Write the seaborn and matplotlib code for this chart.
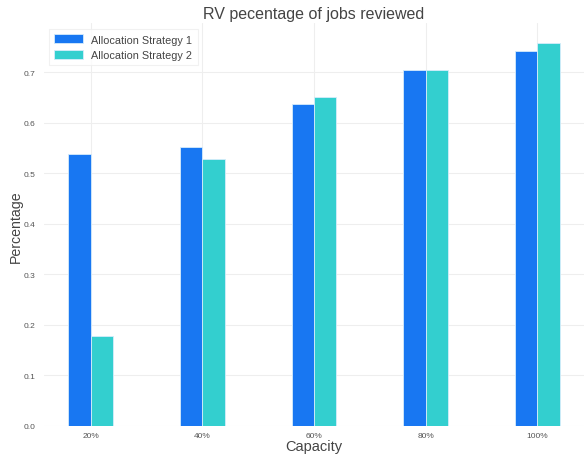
import pandas as pd
import matplotlib
matplotlib.use('Agg')
import matplotlib.pyplot as plt
import seaborn as sns

capacity = ['20%', '40%', '60%', '80%', '100%']
strategy_1 = [0.538, 0.552, 0.637, 0.704, 0.741]
strategy_2 = [0.178, 0.528, 0.651, 0.704, 0.758]
series_names = ['Allocation Strategy 1', 'Allocation Strategy 2']
y_ticks = [0.0, 0.1, 0.2, 0.3, 0.4, 0.5, 0.6, 0.7]

df = pd.DataFrame({
    'Capacity': capacity * 2,
    'Percentage': strategy_1 + strategy_2,
    'Strategy': [series_names[0]] * 5 + [series_names[1]] * 5,
})

sns.set_style('white')
plt.rcParams['font.family'] = ['Liberation Sans', 'DejaVu Sans']

W, H = 584, 456
fig = plt.figure(figsize=(W / 100, H / 100), dpi=100)
ax = fig.add_axes([44 / W, 1 - 427 / H, 1 - 44 / W, (427 - 24) / H])

sns.barplot(data=df, x='Capacity', y='Percentage', hue='Strategy',
            palette=['#1877f2', '#33cfcf'], saturation=1, width=0.4, gap=0,
            edgecolor='#d6ecfb', linewidth=0.6, ax=ax, zorder=3)

ax.set_xlim(-0.418, 4.418)
ax.set_ylim(0, 0.797)
ax.set_yticks(y_ticks)
ax.set_yticklabels([f'{v:.1f}' for v in y_ticks])
ax.grid(True, color='#eeeeee', linewidth=0.8, zorder=0)
ax.set_axisbelow(True)
for s in ax.spines.values():
    s.set_visible(False)
ax.tick_params(axis='x', length=0, labelsize=6, labelcolor='#555555', pad=4.5)
ax.tick_params(axis='y', length=0, labelsize=6, labelcolor='#555555', pad=6)

ax.set_xlabel('')
ax.set_ylabel('')
fig.text(314 / W, 1 - 447 / H, 'Capacity', fontsize=10.5, color='#444444',
         ha='center', va='center')
fig.text(16 / W, 1 - 227 / H, 'Percentage', fontsize=10.2, color='#444444',
         ha='center', va='center', rotation=90)
fig.text(314 / W, 1 - 15 / H, 'RV pecentage of jobs reviewed', fontsize=11.5,
         color='#444444', ha='center', va='center')

leg = ax.legend(loc='upper left', bbox_to_anchor=(5 / 540, 1 - 6 / 403), fontsize=7.8,
                frameon=True, fancybox=False, borderpad=0.5, handlelength=2.6,
                handleheight=0.9, labelspacing=0.45, borderaxespad=0, title=None)
leg.get_frame().set_edgecolor('#eeeeee')
leg.get_frame().set_linewidth(0.8)
for t in leg.get_texts():
    t.set_color('#444444')

fig.savefig('out.png', dpi=100)
